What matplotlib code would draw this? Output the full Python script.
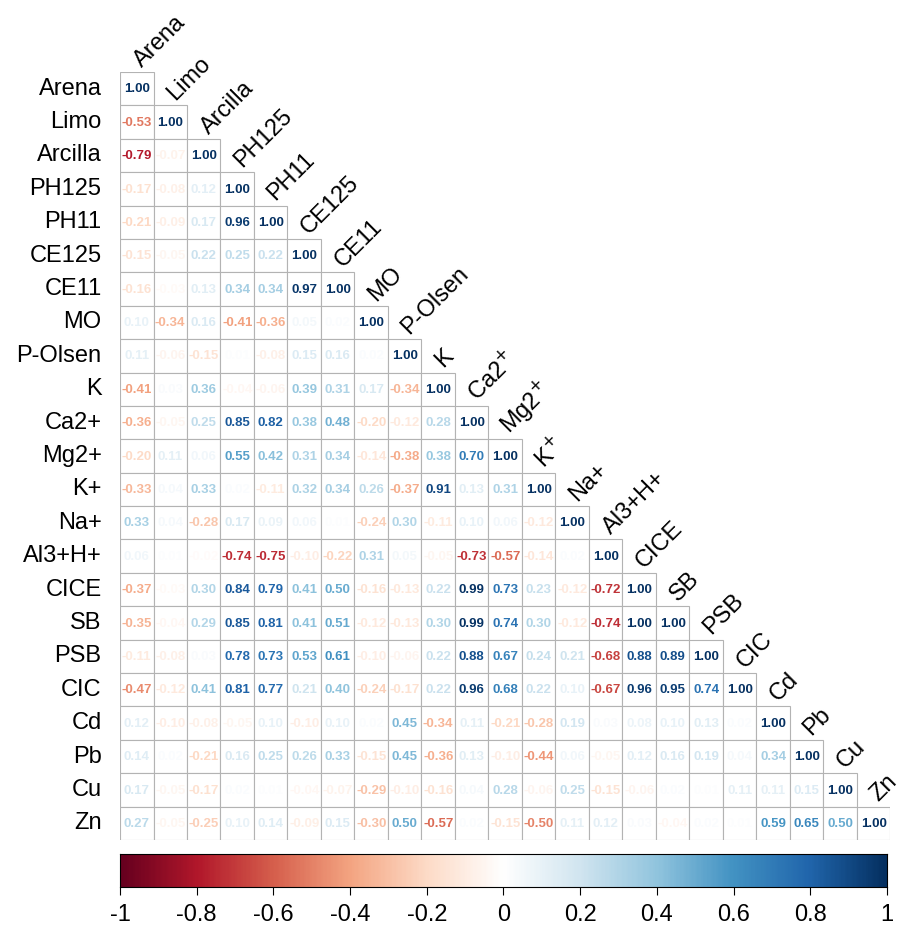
import numpy as np
import matplotlib
matplotlib.use("Agg")
import matplotlib.pyplot as plt
from matplotlib.colors import LinearSegmentedColormap
from matplotlib.patches import Rectangle

plt.rcParams['font.family'] = ['Liberation Sans', 'DejaVu Sans']

labels = ["Arena", "Limo", "Arcilla", "PH125", "PH11", "CE125", "CE11", "MO",
          "P-Olsen", "K", "Ca2+", "Mg2+", "K+", "Na+", "Al3+H+", "CICE", "SB",
          "PSB", "CIC", "Cd", "Pb", "Cu", "Zn"]
# the top labels show the charge of Ca, Mg and K raised
top_labels = ["Arena", "Limo", "Arcilla", "PH125", "PH11", "CE125", "CE11",
              "MO", "P-Olsen", "K", "Ca2$^{+}$", "Mg2$^{+}$", "K$^{+}$", "Na+",
              "Al3+H+", "CICE", "SB", "PSB", "CIC", "Cd", "Pb", "Cu", "Zn"]

# lower triangle, one list per row (values left of the diagonal)
row_arena = []
row_limo = [-0.53]
row_arcilla = [-0.79, -0.07]
row_ph125 = [-0.17, -0.08, 0.12]
row_ph11 = [-0.21, -0.09, 0.17, 0.96]
row_ce125 = [-0.15, -0.05, 0.22, 0.25, 0.22]
row_ce11 = [-0.16, -0.03, 0.13, 0.34, 0.34, 0.97]
row_mo = [0.10, -0.34, 0.16, -0.41, -0.36, 0.05, 0.02]
row_polsen = [0.11, -0.06, -0.15, 0.01, -0.08, 0.15, 0.16, 0.02]
row_k = [-0.41, 0.03, 0.36, -0.04, -0.06, 0.39, 0.31, 0.17, -0.34]
row_ca = [-0.36, -0.05, 0.25, 0.85, 0.82, 0.38, 0.48, -0.20, -0.12, 0.28]
row_mg = [-0.20, 0.11, 0.06, 0.55, 0.42, 0.31, 0.34, -0.14, -0.38, 0.38, 0.70]
row_kp = [-0.33, 0.04, 0.33, 0.02, -0.11, 0.32, 0.34, 0.26, -0.37, 0.91, 0.13,
          0.31]
row_na = [0.33, 0.04, -0.28, 0.17, 0.09, 0.06, 0.01, -0.24, 0.30, -0.11, 0.10,
          0.06, -0.12]
row_al = [0.06, 0.01, -0.02, -0.74, -0.75, -0.10, -0.22, 0.31, 0.05, -0.05,
          -0.73, -0.57, -0.14, 0.02]
row_cice = [-0.37, -0.03, 0.30, 0.84, 0.79, 0.41, 0.50, -0.16, -0.13, 0.22,
            0.99, 0.73, 0.23, -0.12, -0.72]
row_sb = [-0.35, -0.04, 0.29, 0.85, 0.81, 0.41, 0.51, -0.12, -0.13, 0.30, 0.99,
          0.74, 0.30, -0.12, -0.74, 1.00]
row_psb = [-0.11, -0.08, 0.03, 0.78, 0.73, 0.53, 0.61, -0.10, -0.06, 0.22,
           0.88, 0.67, 0.24, 0.21, -0.68, 0.88, 0.89]
row_cic = [-0.47, -0.12, 0.41, 0.81, 0.77, 0.21, 0.40, -0.24, -0.17, 0.22,
           0.96, 0.68, 0.22, 0.10, -0.67, 0.96, 0.95, 0.74]
row_cd = [0.12, -0.10, -0.08, -0.05, 0.10, -0.10, 0.10, 0.02, 0.45, -0.34,
          0.11, -0.21, -0.28, 0.19, 0.03, 0.08, 0.10, 0.13, 0.02]
row_pb = [0.14, 0.02, -0.21, 0.16, 0.25, 0.26, 0.33, -0.15, 0.45, -0.36, 0.13,
          -0.10, -0.44, 0.06, -0.05, 0.12, 0.16, 0.19, 0.04, 0.34]
row_cu = [0.17, -0.05, -0.17, 0.02, 0.01, -0.04, -0.07, -0.29, -0.10, -0.16,
          0.04, 0.28, -0.06, 0.25, -0.15, -0.06, 0.02, 0.01, 0.11, 0.11, 0.15]
row_zn = [0.27, -0.05, -0.25, 0.10, 0.14, -0.09, 0.15, -0.30, 0.50, -0.57,
          0.02, -0.15, -0.50, 0.11, 0.12, 0.03, -0.04, 0.02, 0.01, 0.59, 0.65,
          0.50]

rows = [row_arena, row_limo, row_arcilla, row_ph125, row_ph11, row_ce125,
        row_ce11, row_mo, row_polsen, row_k, row_ca, row_mg, row_kp, row_na,
        row_al, row_cice, row_sb, row_psb, row_cic, row_cd, row_pb, row_cu,
        row_zn]

cbar_ticks = [-1, -0.8, -0.6, -0.4, -0.2, 0, 0.2, 0.4, 0.6, 0.8, 1]
cbar_labels = ["-1", "-0.8", "-0.6", "-0.4", "-0.2", "0", "0.2", "0.4", "0.6",
               "0.8", "1"]

n = len(labels)
corr = np.full((n, n), np.nan)
for i, r in enumerate(rows):
    for j, v in enumerate(r):
        corr[i, j] = v
    corr[i, i] = 1.0

# corrplot's RdBu palette
cmap = LinearSegmentedColormap.from_list("corrRdBu", [
    "#67001F", "#B2182B", "#D6604D", "#F4A582", "#FDDBC7", "#FFFFFF",
    "#D1E5F0", "#92C5DE", "#4393C3", "#2166AC", "#053061"])

W, H = 903, 932
fig = plt.figure(figsize=(W / 100, H / 100), dpi=100)

x0, x1, y0, y1 = 120, 890.5, 72, 840
ax = fig.add_axes([x0 / W, 1 - y1 / H, (x1 - x0) / W, (y1 - y0) / H])
ax.set_xlim(0, n)
ax.set_ylim(n, 0)
ax.axis('off')

for i in range(n):
    for j in range(i + 1):
        v = corr[i, j]
        ax.add_patch(Rectangle((j, i), 1, 1, facecolor='white',
                               edgecolor='#b3b3b3', lw=0.8))
        ax.text(j + 0.5, i + 0.52, f"{v:.2f}", ha='center', va='center',
                fontsize=9.5, fontweight='bold',
                color=cmap((v + 1) / 2))

# row labels on the left
for i, lab in enumerate(labels):
    ax.text(-0.55, i + 0.5, lab, ha='right', va='center', fontsize=17,
            clip_on=False)

# diagonal column labels at 45 degrees
for j, lab in enumerate(top_labels):
    ax.text(j + 0.75, j - 0.02, lab, ha='left', va='bottom', rotation=45,
            rotation_mode='anchor', fontsize=17, clip_on=False)

# colour bar
cx0, cx1, cy0, cy1 = 120, 887, 854, 887
cax = fig.add_axes([cx0 / W, 1 - cy1 / H, (cx1 - cx0) / W, (cy1 - cy0) / H])
grad = np.linspace(-1, 1, 400).reshape(1, -1)
cax.imshow(grad, aspect='auto', cmap=cmap, vmin=-1, vmax=1,
           extent=[-1, 1, 0, 1])
cax.set_xlim(-1, 1)
cax.set_ylim(0, 1)
cax.set_yticks([])
cax.set_xticks(cbar_ticks)
cax.set_xticklabels(cbar_labels, fontsize=17)
cax.tick_params(axis='x', length=6, width=0.8, pad=6)
for s in cax.spines.values():
    s.set_linewidth(0.8)

fig.savefig("out.png", dpi=100)
